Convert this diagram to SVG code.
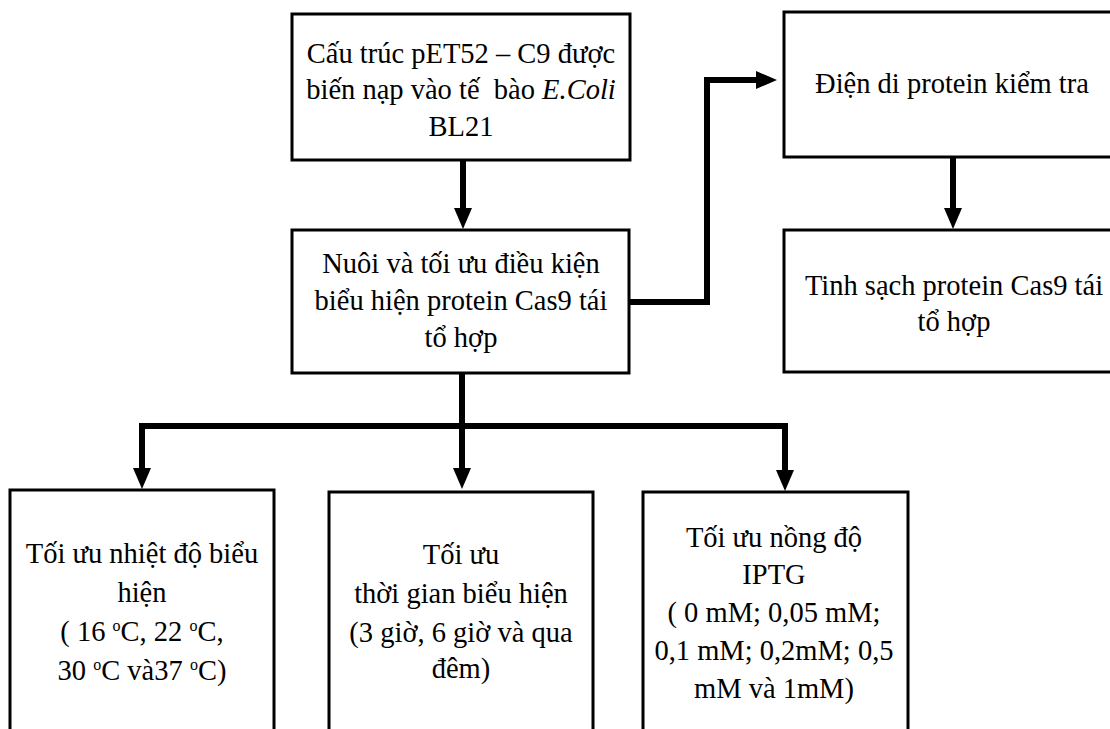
<svg xmlns="http://www.w3.org/2000/svg" width="1110" height="729" viewBox="0 0 1110 729">
<style>
.box{fill:#fff;stroke:#000;stroke-width:3}
.t{font-family:"Liberation Serif","Times New Roman",serif;font-size:28.5px;fill:#000;text-anchor:middle}
.c{fill:none;stroke:#000;stroke-width:6;stroke-linejoin:miter}
.sup{font-size:16px}
</style>
<defs>
<marker id="ah" markerUnits="userSpaceOnUse" markerWidth="21" markerHeight="18" refX="0" refY="9" orient="auto">
<path d="M0,0 L21,9 L0,18 Z" fill="#000"/>
</marker>
</defs>
<rect width="1110" height="729" fill="#fff"/>
<g id="connectors">
<path class="c" d="M463,160 V208" marker-end="url(#ah)"/>
<path class="c" d="M629,302 H707 V80 H756" marker-end="url(#ah)"/>
<path class="c" d="M953,157 V208" marker-end="url(#ah)"/>
<path class="c" d="M462,373 V468" marker-end="url(#ah)"/>
<path class="c" d="M139,426 H788"/>
<path class="c" d="M142,423 V468" marker-end="url(#ah)"/>
<path class="c" d="M785,423 V470" marker-end="url(#ah)"/>
</g>
<g id="n1">
<rect class="box" x="292" y="14" width="338" height="146"/>
<text class="t" x="461" y="63">Cấu trúc pET52 – C9 được</text>
<text class="t" x="461" y="99" style="white-space:pre">biến nạp vào tế  bào <tspan font-style="italic">E.Coli</tspan></text>
<text class="t" x="461" y="136">BL21</text>
</g>
<g id="n2">
<rect class="box" x="292" y="230" width="337" height="143"/>
<text class="t" x="461" y="273">Nuôi và tối ưu điều kiện</text>
<text class="t" x="461" y="310">biểu hiện protein Cas9 tái</text>
<text class="t" x="461" y="347">tổ hợp</text>
</g>
<g id="n3">
<rect class="box" x="784" y="12" width="340" height="145"/>
<text class="t" x="952" y="93">Điện di protein kiểm tra</text>
</g>
<g id="n4">
<rect class="box" x="784" y="230" width="340" height="142"/>
<text class="t" x="954" y="295">Tinh sạch protein Cas9 tái</text>
<text class="t" x="954" y="331">tổ hợp</text>
</g>
<g id="n5">
<rect class="box" x="10" y="490" width="264" height="260"/>
<text class="t" x="142" y="563">Tối ưu nhiệt độ biểu</text>
<text class="t" x="142" y="602">hiện</text>
<text class="t" x="142" y="641">( 16 <tspan class="sup" dy="-10">o</tspan><tspan dy="10">C, 22 </tspan><tspan class="sup" dy="-10">o</tspan><tspan dy="10">C,</tspan></text>
<text class="t" x="142" y="680">30 <tspan class="sup" dy="-10">o</tspan><tspan dy="10">C và37 </tspan><tspan class="sup" dy="-10">o</tspan><tspan dy="10">C)</tspan></text>
</g>
<g id="n6">
<rect class="box" x="329" y="492" width="264" height="260"/>
<text class="t" x="461" y="564">Tối ưu</text>
<text class="t" x="461" y="603">thời gian biểu hiện</text>
<text class="t" x="461" y="642">(3 giờ, 6 giờ và qua</text>
<text class="t" x="461" y="678">đêm)</text>
</g>
<g id="n7">
<rect class="box" x="643" y="492" width="265" height="260"/>
<text class="t" x="774" y="547">Tối ưu nồng độ</text>
<text class="t" x="774" y="584">IPTG</text>
<text class="t" x="774" y="622">( 0 mM; 0,05 mM;</text>
<text class="t" x="774" y="660">0,1 mM; 0,2mM; 0,5</text>
<text class="t" x="774" y="698">mM và 1mM)</text>
</g>
</svg>
